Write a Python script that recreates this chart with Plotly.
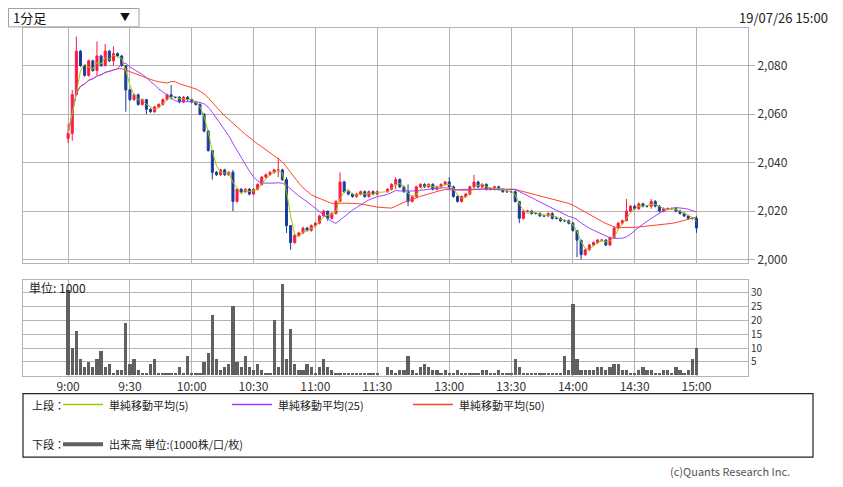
import pandas as pd
import plotly.graph_objects as go

# 2-minute candles, morning 9:00-11:30 and afternoon 12:30-15:00
am_close = [2052, 2068, 2086, 2080, 2076, 2082, 2078, 2084, 2080, 2086, 2082, 2085, 2084, 2080, 2070, 2066,
            2068, 2064, 2066, 2062, 2061, 2063, 2064, 2066, 2068, 2067, 2067, 2065, 2067, 2066, 2065, 2064,
            2060, 2053, 2045, 2036, 2035, 2037, 2035, 2036, 2024, 2029, 2028, 2029, 2027, 2029, 2031, 2034,
            2035, 2036, 2037, 2037, 2033, 2014, 2007, 2010, 2011, 2013, 2012, 2014, 2015, 2018, 2020, 2017,
            2019, 2024, 2032, 2028, 2027, 2026, 2027, 2028, 2026, 2028, 2027, 2028]
pm_close = [2029, 2031, 2033, 2030, 2028, 2024, 2026, 2030, 2031, 2030, 2031, 2029, 2030, 2031, 2032, 2030,
            2026, 2024, 2026, 2027, 2030, 2032, 2030, 2031, 2029, 2029, 2030, 2029, 2028, 2028, 2028, 2024,
            2017, 2020, 2020, 2019, 2019, 2018, 2018, 2019, 2017, 2017, 2016, 2016, 2015, 2012, 2008, 2002,
            2004, 2006, 2007, 2008, 2008, 2006, 2009, 2013, 2015, 2016, 2020, 2022, 2021, 2023, 2022, 2022,
            2024, 2022, 2020, 2021, 2021, 2021, 2020, 2019, 2018, 2017, 2017, 2013]
am_first_open = 2050
# wick extremes for notable candles: candle number -> (high, low)
spikes = {0: (2056, 2048), 1: (2070, 2049), 2: (2092, 2068), 7: (2090, 2076), 9: (2089, 2080),
          11: (2088, 2080), 14: (2079, 2061), 19: (2066, 2060), 25: (2072, 2066), 35: (2045, 2033),
          40: (2037, 2020), 51: (2042, 2034), 53: (2034, 2011), 54: (2012, 2004), 63: (2020, 2016),
          66: (2036, 2024), 78: (2034, 2029), 81: (2031, 2022), 91: (2034, 2029), 97: (2035, 2029),
          108: (2024, 2015), 122: (2010, 2001), 123: (2005, 2000), 134: (2025, 2019), 140: (2025, 2021),
          151: (2018, 2011)}

am_vol = [31, 10, 16, 6, 3, 5, 3, 6, 9, 3, 4, 1, 2, 2, 19, 4, 6, 2, 1, 1, 4, 6, 1, 1, 1, 1, 1, 3, 1, 7,
          1, 1, 1, 5, 8, 22, 6, 2, 3, 4, 25, 5, 3, 7, 3, 2, 4, 2, 1, 1, 20, 3, 33, 6, 17, 4, 2, 2, 4, 3,
          1, 3, 6, 3, 2, 1, 1, 1, 1, 1, 1, 1, 1, 1, 1, 1]
pm_vol = [3, 2, 1, 2, 2, 7, 2, 1, 3, 4, 3, 2, 2, 1, 2, 1, 1, 2, 1, 1, 1, 1, 1, 2, 2, 1, 1, 2, 1, 1,
          1, 6, 3, 1, 1, 1, 1, 1, 1, 1, 1, 1, 1, 7, 2, 26, 6, 2, 2, 2, 2, 3, 3, 2, 3, 4, 4, 2, 2, 1,
          1, 2, 3, 2, 2, 1, 1, 2, 2, 1, 3, 2, 1, 2, 6, 10]

tick_pos = [0, 30, 60, 90, 120, 150, 185, 215, 245, 275, 305]
tick_text = ["9:00", "9:30", "10:00", "10:30", "11:00", "11:30", "13:00", "13:30", "14:00", "14:30", "15:00"]
price_ticks = [2000, 2020, 2040, 2060, 2080]
vol_ticks = [5, 10, 15, 20, 25, 30]

W, H = 843, 487
OFF = 8  # page body margin
FONT = "Noto Sans CJK JP, DejaVu Sans, sans-serif"

# build candle frame
xs = [2 * i for i in range(len(am_close))] + [155 + 2 * i for i in range(len(pm_close))]
close = am_close + pm_close
df = pd.DataFrame({"x": xs, "close": close})
df["open"] = df["close"].shift(1).fillna(am_first_open)
df["high"] = df[["open", "close"]].max(axis=1) + 0.5
df["low"] = df[["open", "close"]].min(axis=1) - 0.5
for k, (hi, lo) in spikes.items():
    df.loc[k, "high"] = hi
    df.loc[k, "low"] = lo
# moving averages (5/25/50 minutes -> 2-minute bars)
df["ma5"] = df["close"].rolling(3, min_periods=1).mean()
df["ma25"] = df["close"].rolling(13, min_periods=1).mean()
df["ma50"] = df["close"].rolling(25, min_periods=1).mean()

vx = [2 * i for i in range(len(am_vol))] + [155 + 2 * i for i in range(len(pm_vol))]
vols = am_vol + pm_vol

C5, C25, C50 = "#99cc00", "#a040ff", "#ff4422"
GRID = "#b4b4b4"


def px(x):
    return (x - OFF) / W


def py(y):
    return 1 - (y - OFF) / H


fig = go.Figure()
fig.add_trace(go.Candlestick(
    x=df["x"], open=df["open"], high=df["high"], low=df["low"], close=df["close"],
    increasing=dict(line=dict(color="#ff1744", width=1), fillcolor="#ff1744"),
    decreasing=dict(line=dict(color="#1a3c9c", width=1), fillcolor="#1a3c9c"),
    whiskerwidth=0, xaxis="x", yaxis="y", showlegend=False,
))
for col, c in (("ma50", C50), ("ma25", C25), ("ma5", C5)):
    fig.add_trace(go.Scatter(x=df["x"], y=df[col], mode="lines", line=dict(color=c, width=1),
                             xaxis="x", yaxis="y", showlegend=False, hoverinfo="skip"))
fig.add_trace(go.Bar(x=vx, y=vols, width=1.6, marker=dict(color="#606060", line=dict(width=0)),
                     xaxis="x2", yaxis="y2", showlegend=False))

xr = [-21.9, 330]
axis_common = dict(showgrid=True, gridcolor=GRID, gridwidth=1, showline=True, linecolor=GRID,
                   mirror=True, zeroline=False, ticks="")
fig.update_layout(
    width=W, height=H, margin=dict(l=0, r=0, t=0, b=0),
    paper_bgcolor="white", plot_bgcolor="white",
    font=dict(family=FONT, size=12, color="#333333"),
    xaxis=dict(domain=[px(23), px(748)], range=xr, tickvals=tick_pos, showticklabels=False,
               rangeslider=dict(visible=False), anchor="y", **axis_common),
    yaxis=dict(domain=[py(265), py(28)], range=[1998.4, 2095.6], tickvals=price_ticks,
               tickformat=",d", side="right", ticks="outside", ticklen=6, tickcolor=GRID,
               **{k: v for k, v in axis_common.items() if k != "ticks"}),
    xaxis2=dict(domain=[px(23), px(748)], range=xr, tickvals=tick_pos, ticktext=tick_text,
                anchor="y2", tickfont=dict(size=12), **axis_common),
    yaxis2=dict(domain=[py(378), py(282)], range=[0, 34.6], tickvals=vol_ticks, side="right",
                anchor="x2", tickfont=dict(size=10), **axis_common),
    bargap=0,
)

shapes = [
    dict(type="rect", xref="paper", yref="paper", x0=px(8.5), x1=px(139), y0=py(27), y1=py(8.5),
         line=dict(color="#a0a0a0", width=1)),
    dict(type="rect", xref="paper", yref="paper", x0=px(23), x1=px(813), y0=py(460), y1=py(396),
         line=dict(color="#222222", width=1.2)),
]
for x0, c in ((63, C5), (232, C25), (413, C50)):
    shapes.append(dict(type="line", xref="paper", yref="paper", x0=px(x0), x1=px(x0 + 40),
                       y0=py(407), y1=py(407), line=dict(color=c, width=1.5)))
shapes.append(dict(type="line", xref="paper", yref="paper", x0=px(63), x1=px(103),
                   y0=py(447), y1=py(447), line=dict(color="#606060", width=4)))
fig.update_layout(shapes=shapes)

ann = [
    (11, 18, "1分足", 13, "left", "#111111"),
    (132, 17, "▼", 10, "right", "#111111"),
    (830, 18, "19/07/26 15:00", 13, "right", "#222222"),
    (27, 289, "単位: 1000", 12, "left", "#222222"),
    (30, 407, "上段：", 11, "left", "#222222"),
    (107, 407, "単純移動平均(5)", 11, "left", "#222222"),
    (276, 407, "単純移動平均(25)", 11, "left", "#222222"),
    (457, 407, "単純移動平均(50)", 11, "left", "#222222"),
    (30, 447, "下段：", 11, "left", "#222222"),
    (107, 447, "出来高 単位:(1000株/口/枚)", 11, "left", "#222222"),
    (792, 474, "(c)Quants Research Inc.", 11, "right", "#555555"),
]
fig.update_layout(annotations=[
    dict(x=px(x), y=py(y), xref="paper", yref="paper", text=t, showarrow=False,
         xanchor=a, yanchor="middle", font=dict(size=s, color=c))
    for x, y, t, s, a, c in ann
])

fig.write_html("out.html")
